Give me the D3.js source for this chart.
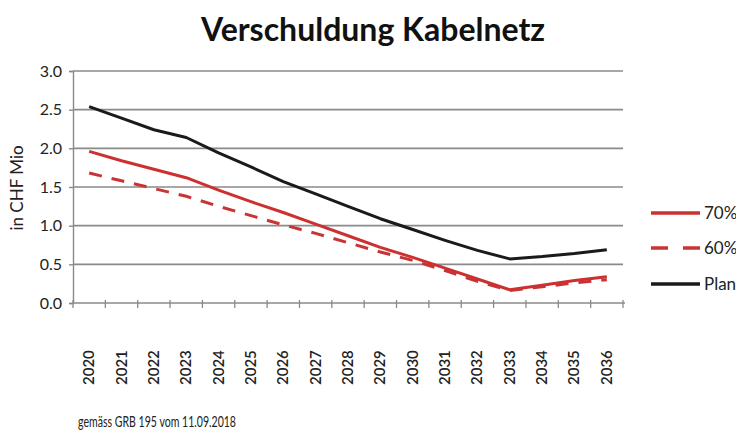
<!DOCTYPE html>
<html><head><meta charset="utf-8">
<script src="https://cdn.jsdelivr.net/npm/d3@7"></script>
<style>body{margin:0;background:#fff}svg{display:block}</style>
</head><body>
<svg id="c" width="736" height="432"></svg>
<script>
const years = ["2020","2021","2022","2023","2024","2025","2026","2027","2028","2029","2030","2031","2032","2033","2034","2035","2036"];
const s70 = [1.96,1.84,1.73,1.62,1.46,1.31,1.17,1.02,0.87,0.72,0.59,0.45,0.31,0.17,0.23,0.29,0.34];
const s60 = [1.68,1.58,1.48,1.38,1.25,1.13,1.01,0.90,0.78,0.66,0.55,0.42,0.28,0.16,0.21,0.26,0.30];
const plan = [2.54,2.39,2.24,2.14,1.94,1.76,1.57,1.41,1.25,1.09,0.95,0.81,0.68,0.57,0.60,0.64,0.69];
const yTicks = [0,0.5,1.0,1.5,2.0,2.5,3.0];
const seriesNames = ["70%","60%","Plan"];
const title = "Verschuldung Kabelnetz";
const yLabel = "in CHF Mio";
const footnote = "gemäss GRB 195 vom 11.09.2018";

const svg = d3.select("#c");
const L = 73, R = 623, T = 71, B = 303;
const x = d3.scaleBand().domain(years).range([L, R]);
const y = d3.scaleLinear().domain([0, 3]).range([B, T]);
const font = "Lato, 'Open Sans', sans-serif";

svg.append("text").attr("x", 373).attr("y", 41).attr("text-anchor", "middle")
  .attr("font-family", font).attr("font-weight", "bold").attr("font-size", 32).attr("fill", "#111").text(title);

// grid
svg.append("g").selectAll("line").data(yTicks.filter(d => d > 0)).join("line")
  .attr("x1", L).attr("x2", R).attr("y1", d => y(d)).attr("y2", d => y(d))
  .attr("stroke", "#8a8a8a").attr("stroke-width", 1.6);

// y axis
const ya = svg.append("g").attr("transform", `translate(${L},0)`)
  .call(d3.axisLeft(y).tickValues(yTicks).tickFormat(d3.format(".1f")).tickSize(4).tickPadding(7));
ya.select(".domain").attr("stroke", "#8a8a8a").attr("stroke-width", 1.4);
ya.selectAll(".tick line").attr("stroke", "#8a8a8a").attr("stroke-width", 1.4);
ya.selectAll("text").attr("font-family", font).attr("font-size", 16).attr("fill", "#222");

// x axis
const xa = svg.append("g").attr("transform", `translate(0,${B})`);
xa.append("line").attr("x1", L).attr("x2", R + 2).attr("y1", 0).attr("y2", 0)
  .attr("stroke", "#8a8a8a").attr("stroke-width", 1.6);
const bounds = years.map(d => x(d)).concat([R]);
xa.selectAll("line.tk").data(bounds).join("line").attr("class", "tk")
  .attr("x1", d => d).attr("x2", d => d).attr("y1", -3).attr("y2", 5)
  .attr("stroke", "#8a8a8a").attr("stroke-width", 1.3);
xa.selectAll("text.yr").data(years).join("text").attr("class", "yr")
  .attr("transform", d => `translate(${x(d) + x.bandwidth() / 2 + 5},${385 - B}) rotate(-90)`)
  .attr("text-anchor", "start").attr("font-family", font).attr("font-size", 15)
  .attr("font-weight", "600").attr("fill", "#222").text(d => d);

svg.append("text").attr("transform", `translate(23,${188}) rotate(-90)`).attr("text-anchor", "middle")
  .attr("font-family", font).attr("font-size", 17).attr("fill", "#222").text(yLabel);

const line = d3.line().x((d, i) => x(years[i]) + x.bandwidth() / 2).y(d => y(d));
const styles = [
  {data: s70, color: "#cc3030", dash: null},
  {data: s60, color: "#c83434", dash: "13,10"},
  {data: plan, color: "#1a1a1a", dash: null}
];
styles.forEach(s => {
  svg.append("path").datum(s.data).attr("d", line).attr("fill", "none")
    .attr("stroke", s.color).attr("stroke-width", 3).attr("stroke-dasharray", s.dash)
    .attr("stroke-linejoin", "round");
});

// legend
const ly = [213, 248, 284];
styles.forEach((s, i) => {
  svg.append("line").attr("x1", 651).attr("x2", 700).attr("y1", ly[i]).attr("y2", ly[i])
    .attr("stroke", s.color).attr("stroke-width", 3.5).attr("stroke-dasharray", s.dash ? "17,15" : null);
  svg.append("text").attr("x", 704).attr("y", ly[i] + 6).attr("font-family", font)
    .attr("font-size", 17).attr("fill", "#222").text(seriesNames[i]);
});

svg.append("text").attr("x", 78).attr("y", 427).attr("font-family", "'Liberation Sans Narrow', Lato, sans-serif")
  .attr("font-size", 15).attr("textLength", 158).attr("lengthAdjust", "spacingAndGlyphs")
  .attr("fill", "#222").text(footnote);
</script>
</body></html>
